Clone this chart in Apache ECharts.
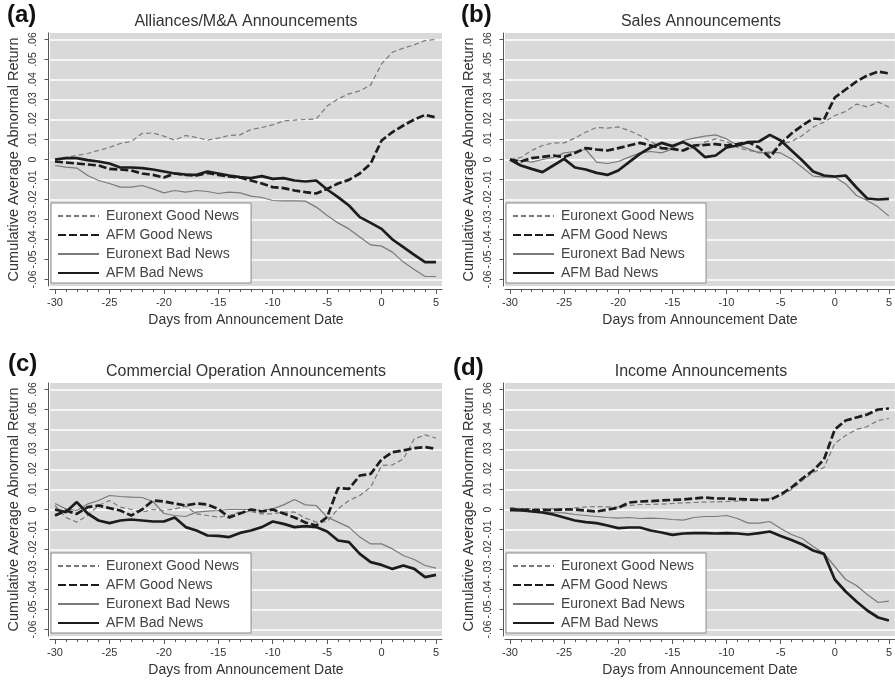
<!DOCTYPE html>
<html>
<head>
<meta charset="utf-8">
<script src="https://cdn.jsdelivr.net/npm/echarts@6/dist/echarts.min.js"></script>
<style>
  html, body { margin: 0; padding: 0; background: #ffffff; }
  #chart { width: 895px; height: 682px; }
</style>
</head>
<body>
<div id="chart"></div>
<script>
// Event window, days relative to the announcement
const days = [-30, -29, -28, -27, -26, -25, -24, -23, -22, -21, -20, -19, -18, -17, -16, -15, -14, -13,
  -12, -11, -10, -9, -8, -7, -6, -5, -4, -3, -2, -1, 0, 1, 2, 3, 4, 5];

const seriesNames = ['Euronext Good News', 'AFM Good News', 'Euronext Bad News', 'AFM Bad News'];
const panelTags = ['(a)', '(b)', '(c)', '(d)'];
const panelTitles = ['Alliances/M&A Announcements', 'Sales Announcements',
  'Commercial Operation Announcements', 'Income Announcements'];
const yTickValues = [-0.06, -0.05, -0.04, -0.03, -0.02, -0.01, 0, 0.01, 0.02, 0.03, 0.04, 0.05, 0.06];
const xMajorTicks = [-30, -25, -20, -15, -10, -5, 0, 5];

// (a) Alliances/M&A
const allianceEuronextGood = [0, 0.001, 0.002, 0.003, 0.0045, 0.006, 0.008, 0.009, 0.013, 0.0133, 0.0117, 0.0097,
  0.012, 0.011, 0.0097, 0.0107, 0.012, 0.0123, 0.015, 0.016, 0.0173, 0.0193, 0.0197, 0.02, 0.0203, 0.0267,
  0.0303, 0.0328, 0.0343, 0.0373, 0.0478, 0.0537, 0.0557, 0.0573, 0.0595, 0.06];
const allianceAfmGood = [-0.001, -0.0015, -0.002, -0.0025, -0.003, -0.0047, -0.005, -0.0055, -0.007, -0.0077,
  -0.009, -0.007, -0.0077, -0.008, -0.0067, -0.0077, -0.0085, -0.009, -0.0105, -0.012, -0.0138, -0.0143,
  -0.0155, -0.0163, -0.017, -0.0147, -0.012, -0.0102, -0.007, -0.002, 0.0095, 0.0137, 0.017, 0.02, 0.0223, 0.021];
const allianceEuronextBad = [-0.003, -0.0038, -0.0043, -0.008, -0.0105, -0.012, -0.0138, -0.0138, -0.013, -0.0147,
  -0.0167, -0.0155, -0.0163, -0.0155, -0.016, -0.017, -0.0163, -0.0167, -0.0183, -0.019, -0.0205, -0.0207,
  -0.0207, -0.0208, -0.0238, -0.028, -0.0317, -0.0347, -0.0388, -0.0427, -0.0433, -0.0463, -0.0513, -0.055,
  -0.0585, -0.0585];
const allianceAfmBad = [0, 0.0007, 0.0007, -0.0003, -0.001, -0.002, -0.004, -0.004, -0.0043, -0.005, -0.006,
  -0.007, -0.0075, -0.0077, -0.006, -0.007, -0.008, -0.0088, -0.0093, -0.0083, -0.0097, -0.0093, -0.0105,
  -0.011, -0.0105, -0.015, -0.0188, -0.023, -0.0288, -0.0317, -0.0347, -0.04, -0.0438, -0.0477, -0.0513, -0.0513];

// (b) Sales
const salesEuronextGood = [0, 0.001, 0.0045, 0.007, 0.0083, 0.0083, 0.0107, 0.0137, 0.016, 0.0157, 0.0163, 0.0145,
  0.012, 0.009, 0.006, 0.0053, 0.0045, 0.006, 0.0087, 0.0103, 0.009, 0.006, 0.0045, 0.0037, 0.0028, 0.0078,
  0.009, 0.012, 0.0162, 0.0187, 0.022, 0.024, 0.0277, 0.0263, 0.0287, 0.0262];
const salesAfmGood = [0, -0.001, 0.0007, 0.0013, 0.002, 0.0012, 0.0033, 0.0057, 0.005, 0.0045, 0.0057, 0.007,
  0.0083, 0.007, 0.0057, 0.0053, 0.0045, 0.007, 0.0073, 0.0077, 0.007, 0.0077, 0.0087, 0.006, 0.001, 0.008,
  0.013, 0.017, 0.0205, 0.02, 0.031, 0.035, 0.039, 0.042, 0.044, 0.043];
const salesEuronextBad = [0, -0.0005, -0.0013, 0, 0.001, 0.0033, 0.004, 0.005, -0.0013, -0.002, -0.001, 0.0012,
  0.0033, 0.004, 0.0033, 0.0053, 0.0095, 0.0107, 0.0117, 0.0123, 0.0103, 0.0073, 0.0053, 0.0033, 0.0037,
  0.0033, 0.0003, -0.004, -0.0083, -0.0088, -0.0088, -0.0122, -0.018, -0.0205, -0.0238, -0.0283];
const salesAfmBad = [0, -0.003, -0.0047, -0.0063, -0.003, 0.0003, -0.004, -0.005, -0.0067, -0.0077, -0.0055,
  -0.0013, 0.0028, 0.006, 0.0083, 0.0067, 0.0087, 0.006, 0.0012, 0.002, 0.006, 0.007, 0.0087, 0.009, 0.0123,
  0.0095, 0.0045, -0.0005, -0.006, -0.008, -0.0085, -0.008, -0.014, -0.0195, -0.02, -0.0197];

// (c) Commercial operation
const commercialEuronextGood = [0.002, -0.004, -0.0063, -0.003, 0.002, 0.0045, 0.0012, 0, -0.0013, 0, -0.0005,
  0.0003, 0.0017, -0.0022, -0.003, -0.0038, -0.003, -0.0013, -0.001, -0.0022, -0.0022, -0.0013, -0.0013,
  -0.0043, -0.0063, -0.006, 0.0003, 0.0045, 0.007, 0.0112, 0.022, 0.0223, 0.0253, 0.0353, 0.0373, 0.0357];
const commercialAfmGood = [-0.003, -0.0005, -0.0022, 0.0012, 0.002, 0.0007, -0.0005, -0.003, 0, 0.0045, 0.004,
  0.003, 0.002, 0.003, 0.0025, 0.0003, -0.004, -0.002, 0, -0.001, 0, -0.002, -0.004, -0.0065, -0.008, -0.0038,
  0.0107, 0.0103, 0.017, 0.0178, 0.025, 0.0287, 0.0295, 0.0307, 0.0312, 0.0303];
const commercialEuronextBad = [0.003, 0.0003, -0.0005, 0.0028, 0.0045, 0.007, 0.0065, 0.0062, 0.006, 0.004, -0.002,
  -0.003, -0.0035, -0.0013, -0.0008, -0.0005, 0, 0, 0, -0.0005, 0.0003, 0.0023, 0.005, 0.0023, 0.002, -0.0038,
  -0.0063, -0.0088, -0.0138, -0.0172, -0.0172, -0.0197, -0.023, -0.025, -0.028, -0.0293];
const commercialAfmBad = [0, -0.0013, 0.0037, -0.002, -0.0055, -0.0068, -0.0055, -0.005, -0.0055, -0.006, -0.006,
  -0.004, -0.0088, -0.0105, -0.013, -0.0132, -0.0138, -0.0117, -0.0105, -0.0088, -0.006, -0.0072, -0.0088,
  -0.0083, -0.0088, -0.011, -0.0155, -0.0163, -0.0222, -0.0263, -0.0277, -0.0297, -0.028, -0.0297, -0.0338,
  -0.0327];

// (d) Income
const incomeEuronextGood = [0.001, 0.0005, 0.0003, 0.0003, 0.0003, 0.0003, 0.0008, 0.0013, 0.0015, 0.0013, 0.0012,
  0.002, 0.0025, 0.0025, 0.0027, 0.003, 0.0033, 0.0035, 0.0037, 0.0038, 0.004, 0.0042, 0.0045, 0.005, 0.0055,
  0.0068, 0.01, 0.0145, 0.0185, 0.021, 0.033, 0.037, 0.04, 0.0415, 0.0445, 0.0455];
const incomeAfmGood = [0, 0, -0.0003, -0.0003, -0.0002, 0, 0, -0.0005, -0.001, 0, 0.0008, 0.0035, 0.004, 0.0042,
  0.0045, 0.0048, 0.005, 0.0055, 0.006, 0.0055, 0.0055, 0.0052, 0.005, 0.0048, 0.0048, 0.0075, 0.011, 0.0155,
  0.0195, 0.025, 0.04, 0.0445, 0.046, 0.0475, 0.05, 0.0505];
const incomeEuronextBad = [-0.001, -0.001, -0.001, -0.0012, -0.0015, -0.0017, -0.0025, -0.003, -0.0035, -0.004,
  -0.0043, -0.004, -0.0045, -0.0043, -0.0045, -0.005, -0.0053, -0.004, -0.0035, -0.0035, -0.003, -0.0045,
  -0.0068, -0.0068, -0.006, -0.0095, -0.0125, -0.0145, -0.0185, -0.022, -0.0285, -0.035, -0.038, -0.0425,
  -0.0465, -0.0458];
const incomeAfmBad = [0, -0.0003, -0.001, -0.0015, -0.0025, -0.004, -0.0055, -0.0063, -0.0068, -0.008, -0.0093,
  -0.009, -0.009, -0.0105, -0.0115, -0.0127, -0.012, -0.0118, -0.0118, -0.012, -0.0118, -0.012, -0.0125,
  -0.0118, -0.011, -0.0132, -0.0152, -0.0175, -0.0205, -0.0222, -0.035, -0.041, -0.046, -0.0505, -0.054, -0.0555];

const panelData = [
  [allianceEuronextGood, allianceAfmGood, allianceEuronextBad, allianceAfmBad],
  [salesEuronextGood, salesAfmGood, salesEuronextBad, salesAfmBad],
  [commercialEuronextGood, commercialAfmGood, commercialEuronextBad, commercialAfmBad],
  [incomeEuronextGood, incomeAfmGood, incomeEuronextBad, incomeAfmBad]
];

// ---- layout & styling ----
const FONT = 'Arial, "Liberation Sans", Helvetica, sans-serif';
const PLOT_W = 392, PLOT_H = 253;
const plotOrigins = [[50, 33], [505, 33], [50, 383], [505, 383]];
const X_RANGE = [-30.46, 5.55];
const Y_RANGE = [-0.06325, 0.06325];
const tagPos = [[7, 3], [461, 3], [8, 352], [453, 356]];

const lineStyles = [
  { color: '#7a7a7a', width: 1.2, type: [5, 3] },
  { color: '#1c1c1c', width: 2.7, type: [8, 3] },
  { color: '#7a7a7a', width: 1.2, type: 'solid' },
  { color: '#1c1c1c', width: 2.7, type: 'solid' }
];

function fmtReturn(v) {
  if (Math.abs(v) < 1e-9) return '0';
  const hundredths = Math.round(Math.abs(v) * 100);
  return (v < 0 ? '-' : '') + '.' + String(hundredths).padStart(2, '0');
}

const grid = [], xAxis = [], yAxis = [], series = [], legend = [], graphic = [];

plotOrigins.forEach(([left, top], p) => {
  grid.push({
    left, top, width: PLOT_W, height: PLOT_H,
    show: true, backgroundColor: '#d9d9d9', borderWidth: 0
  });

  // major ticks + labels
  xAxis.push({
    type: 'value', gridIndex: p, min: X_RANGE[0], max: X_RANGE[1], position: 'bottom', offset: 3,
    axisLine: { show: true, onZero: false, lineStyle: { color: '#555', width: 1 } },
    axisTick: { show: true, length: 5, customValues: xMajorTicks, lineStyle: { color: '#555' } },
    axisLabel: { customValues: xMajorTicks, color: '#333', fontSize: 11, fontFamily: FONT, margin: 8 },
    splitLine: { show: false },
    name: 'Days from Announcement Date', nameLocation: 'middle', nameGap: 24,
    nameTextStyle: { color: '#333', fontSize: 14, fontFamily: FONT }
  });
  // daily minor ticks
  xAxis.push({
    type: 'value', gridIndex: p, min: X_RANGE[0], max: X_RANGE[1], position: 'bottom', offset: 3,
    axisLine: { show: false, onZero: false },
    axisTick: { show: true, length: 3, customValues: days, lineStyle: { color: '#555' } },
    axisLabel: { show: false },
    splitLine: { show: false }
  });

  yAxis.push({
    type: 'value', gridIndex: p, min: Y_RANGE[0], max: Y_RANGE[1], position: 'left', offset: 1.5,
    axisLine: { show: true, onZero: false, lineStyle: { color: '#555', width: 1 } },
    axisTick: { show: true, length: 4, customValues: yTickValues, lineStyle: { color: '#555' } },
    axisLabel: {
      customValues: yTickValues, rotate: 90, formatter: fmtReturn,
      color: '#333', fontSize: 10.5, fontFamily: FONT, margin: 10
    },
    splitLine: { show: true, lineStyle: { color: '#ffffff', width: 1.5 } },
    name: 'Cumulative Average Abnormal Return', nameLocation: 'middle', nameGap: 27,
    nameTextStyle: { color: '#333', fontSize: 14.5, fontFamily: FONT }
  });

  seriesNames.forEach((name, s) => {
    series.push({
      type: 'line', name, xAxisIndex: 2 * p, yAxisIndex: p,
      data: days.map((d, i) => [d, panelData[p][s][i]]),
      symbol: 'none', smooth: false, silent: true, animation: false,
      lineStyle: lineStyles[s],
      itemStyle: { color: lineStyles[s].color },
      z: s % 2 === 1 ? 3 : 2
    });
  });

  legend.push({
    data: seriesNames, orient: 'vertical', left: left + 1, top: top + 170,
    itemWidth: 41, itemHeight: 14, itemGap: 5,
    padding: [6, 12, 3, 6],
    backgroundColor: '#ffffff', borderColor: '#8a8a8a', borderWidth: 1,
    itemStyle: { opacity: 0, color: 'transparent', borderWidth: 0 },
    textStyle: { color: '#444', fontSize: 14, fontFamily: FONT, padding: [0, 0, 0, 2] },
    selectedMode: false
  });

  graphic.push({
    type: 'text', x: left + PLOT_W / 2, y: top - 11,
    style: { text: panelTitles[p], font: '16px ' + FONT, fill: '#333', align: 'center', verticalAlign: 'middle' }
  });
  graphic.push({
    type: 'text', x: tagPos[p][0], y: tagPos[p][1],
    style: { text: panelTags[p], font: 'bold 24px ' + FONT, fill: '#111', align: 'left', verticalAlign: 'top' }
  });
});

const chart = echarts.init(document.getElementById('chart'), null, { renderer: 'canvas' });
chart.setOption({
  animation: false,
  backgroundColor: '#ffffff',
  grid, xAxis, yAxis, series, legend, graphic
});
</script>
</body>
</html>
